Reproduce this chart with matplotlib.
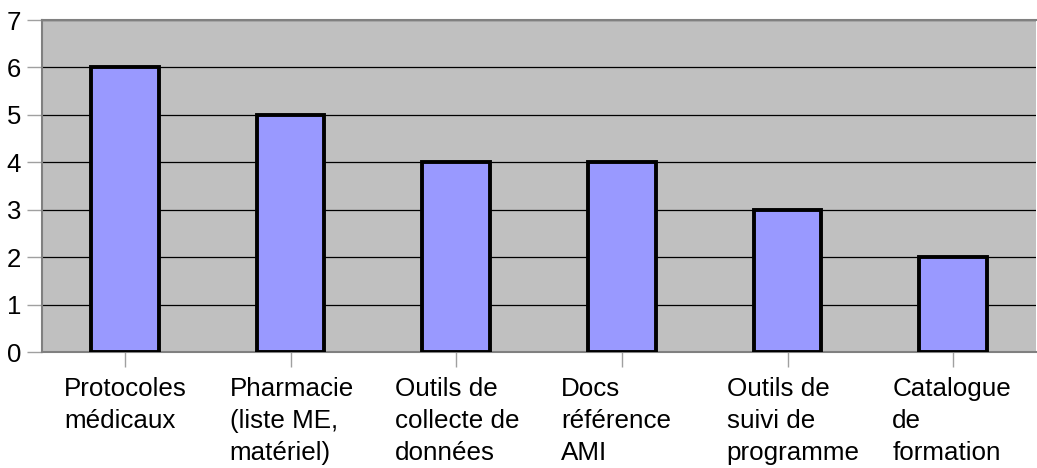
import numpy as np
import matplotlib.pyplot as plt
import matplotlib.transforms as mtransforms

categories = ["Protocoles\nmédicaux",
              "Pharmacie\n(liste ME,\nmatériel)",
              "Outils de\ncollecte de\ndonnées",
              "Docs\nréférence\nAMI",
              "Outils de\nsuivi de\nprogramme",
              "Catalogue\nde\nformation"]
values = [6, 5, 4, 4, 3, 2]
yticks = [0, 1, 2, 3, 4, 5, 6, 7]

plt.rcParams['font.family'] = ['Liberation Sans', 'DejaVu Sans']

fig = plt.figure(figsize=(10.37, 4.68), dpi=100)
ax = fig.add_axes([42 / 1037, 1 - 352 / 468, 994 / 1037, 332 / 468])
ax.set_facecolor('#c0c0c0')

x = np.arange(len(values))
ax.bar(x, values, width=0.41, color='#9999ff', edgecolor='black', linewidth=2.8, zorder=3)

ax.set_xlim(-0.5, len(values) - 0.5)
ax.set_ylim(0, 7)
ax.set_yticks(yticks)
ax.yaxis.grid(True, color='black', linewidth=0.9, zorder=1)
ax.set_axisbelow(True)

ax.set_xticks(x)
ax.set_xticklabels([])
ax.tick_params(axis='x', length=11, color='#a0a0a0', width=1)
ax.tick_params(axis='y', length=11, color='#a0a0a0', width=1, labelsize=18.5, pad=4)

for s in ['left', 'bottom', 'top', 'right']:
    ax.spines[s].set_color('#808080')
    ax.spines[s].set_linewidth(1.5)
ax.spines['right'].set_visible(False)

trans = mtransforms.blended_transform_factory(ax.transData, ax.transAxes)
for i, lab in enumerate(categories):
    ax.text(i - 0.367, -0.075, lab, transform=trans, ha='left', va='top',
            fontsize=18.7, linespacing=1.42)

fig.savefig('out.png', dpi=100)
